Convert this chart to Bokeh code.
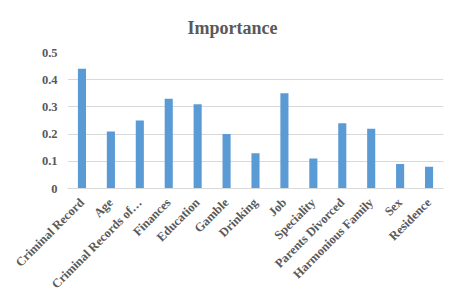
from bokeh.plotting import figure
from bokeh.models import FactorRange, Range1d, FixedTicker, ColumnDataSource
from bokeh.embed import file_html
from bokeh.resources import INLINE
import math

categories = ["Criminal Record", "Age", "Criminal Records of\u2026", "Finances", "Education",
              "Gamble", "Drinking", "Job", "Speciality", "Parents Divorced",
              "Harmonious Family", "Sex", "Residence"]
importance = [0.44, 0.21, 0.25, 0.33, 0.31, 0.20, 0.13, 0.35, 0.11, 0.24, 0.22, 0.09, 0.08]
y_ticks = [0, 0.1, 0.2, 0.3, 0.4, 0.5]
y_tick_labels = ["0", "0.1", "0.2", "0.3", "0.4", "0.5"]

FONT = "Liberation Serif"
GRAY = "#595959"

src = ColumnDataSource(dict(cat=categories, val=importance))

p = figure(x_range=FactorRange(*categories, range_padding=0), y_range=Range1d(0, 0.5),
           frame_width=376, frame_height=136,
           min_border_left=67, min_border_right=6, min_border_top=0, min_border_bottom=0,
           output_backend="svg", toolbar_location=None,
           title="Importance")
p.title.align = "left"
p.title.text_font = FONT
p.title.text_font_size = "18px"
p.title.text_font_style = "bold"
p.title.text_color = GRAY
p.title.offset = 120
p.title.standoff = 30

p.vbar(x="cat", top="val", width=0.28, source=src, color="#5B9BD5", line_color=None)

p.outline_line_color = None
p.background_fill_color = "white"
p.border_fill_color = "white"

p.xgrid.grid_line_color = None
p.ygrid.grid_line_color = "#D9D9D9"
p.ygrid.grid_line_width = 1

p.yaxis.ticker = FixedTicker(ticks=y_ticks)
p.yaxis.major_label_overrides = {t: l for t, l in zip(y_ticks, y_tick_labels)}
p.yaxis.axis_line_color = None
p.yaxis.major_tick_line_color = None
p.yaxis.minor_tick_line_color = None
p.yaxis.major_tick_out = 0
p.yaxis.minor_tick_out = 0
p.yaxis.major_label_standoff = 10

p.xaxis.axis_line_color = "#D9D9D9"
p.xaxis.major_tick_line_color = None
p.xaxis.minor_tick_line_color = None
p.xaxis.major_tick_out = 0
p.xaxis.minor_tick_out = 0
p.xaxis.major_label_orientation = math.pi / 4
p.xaxis.major_label_standoff = 12

for ax in (p.xaxis[0], p.yaxis[0]):
    ax.major_label_text_font = FONT
    ax.major_label_text_font_size = "12.5px"
    ax.major_label_text_font_style = "bold"
    ax.major_label_text_color = GRAY

open("out.html", "w").write(file_html(p, INLINE))
